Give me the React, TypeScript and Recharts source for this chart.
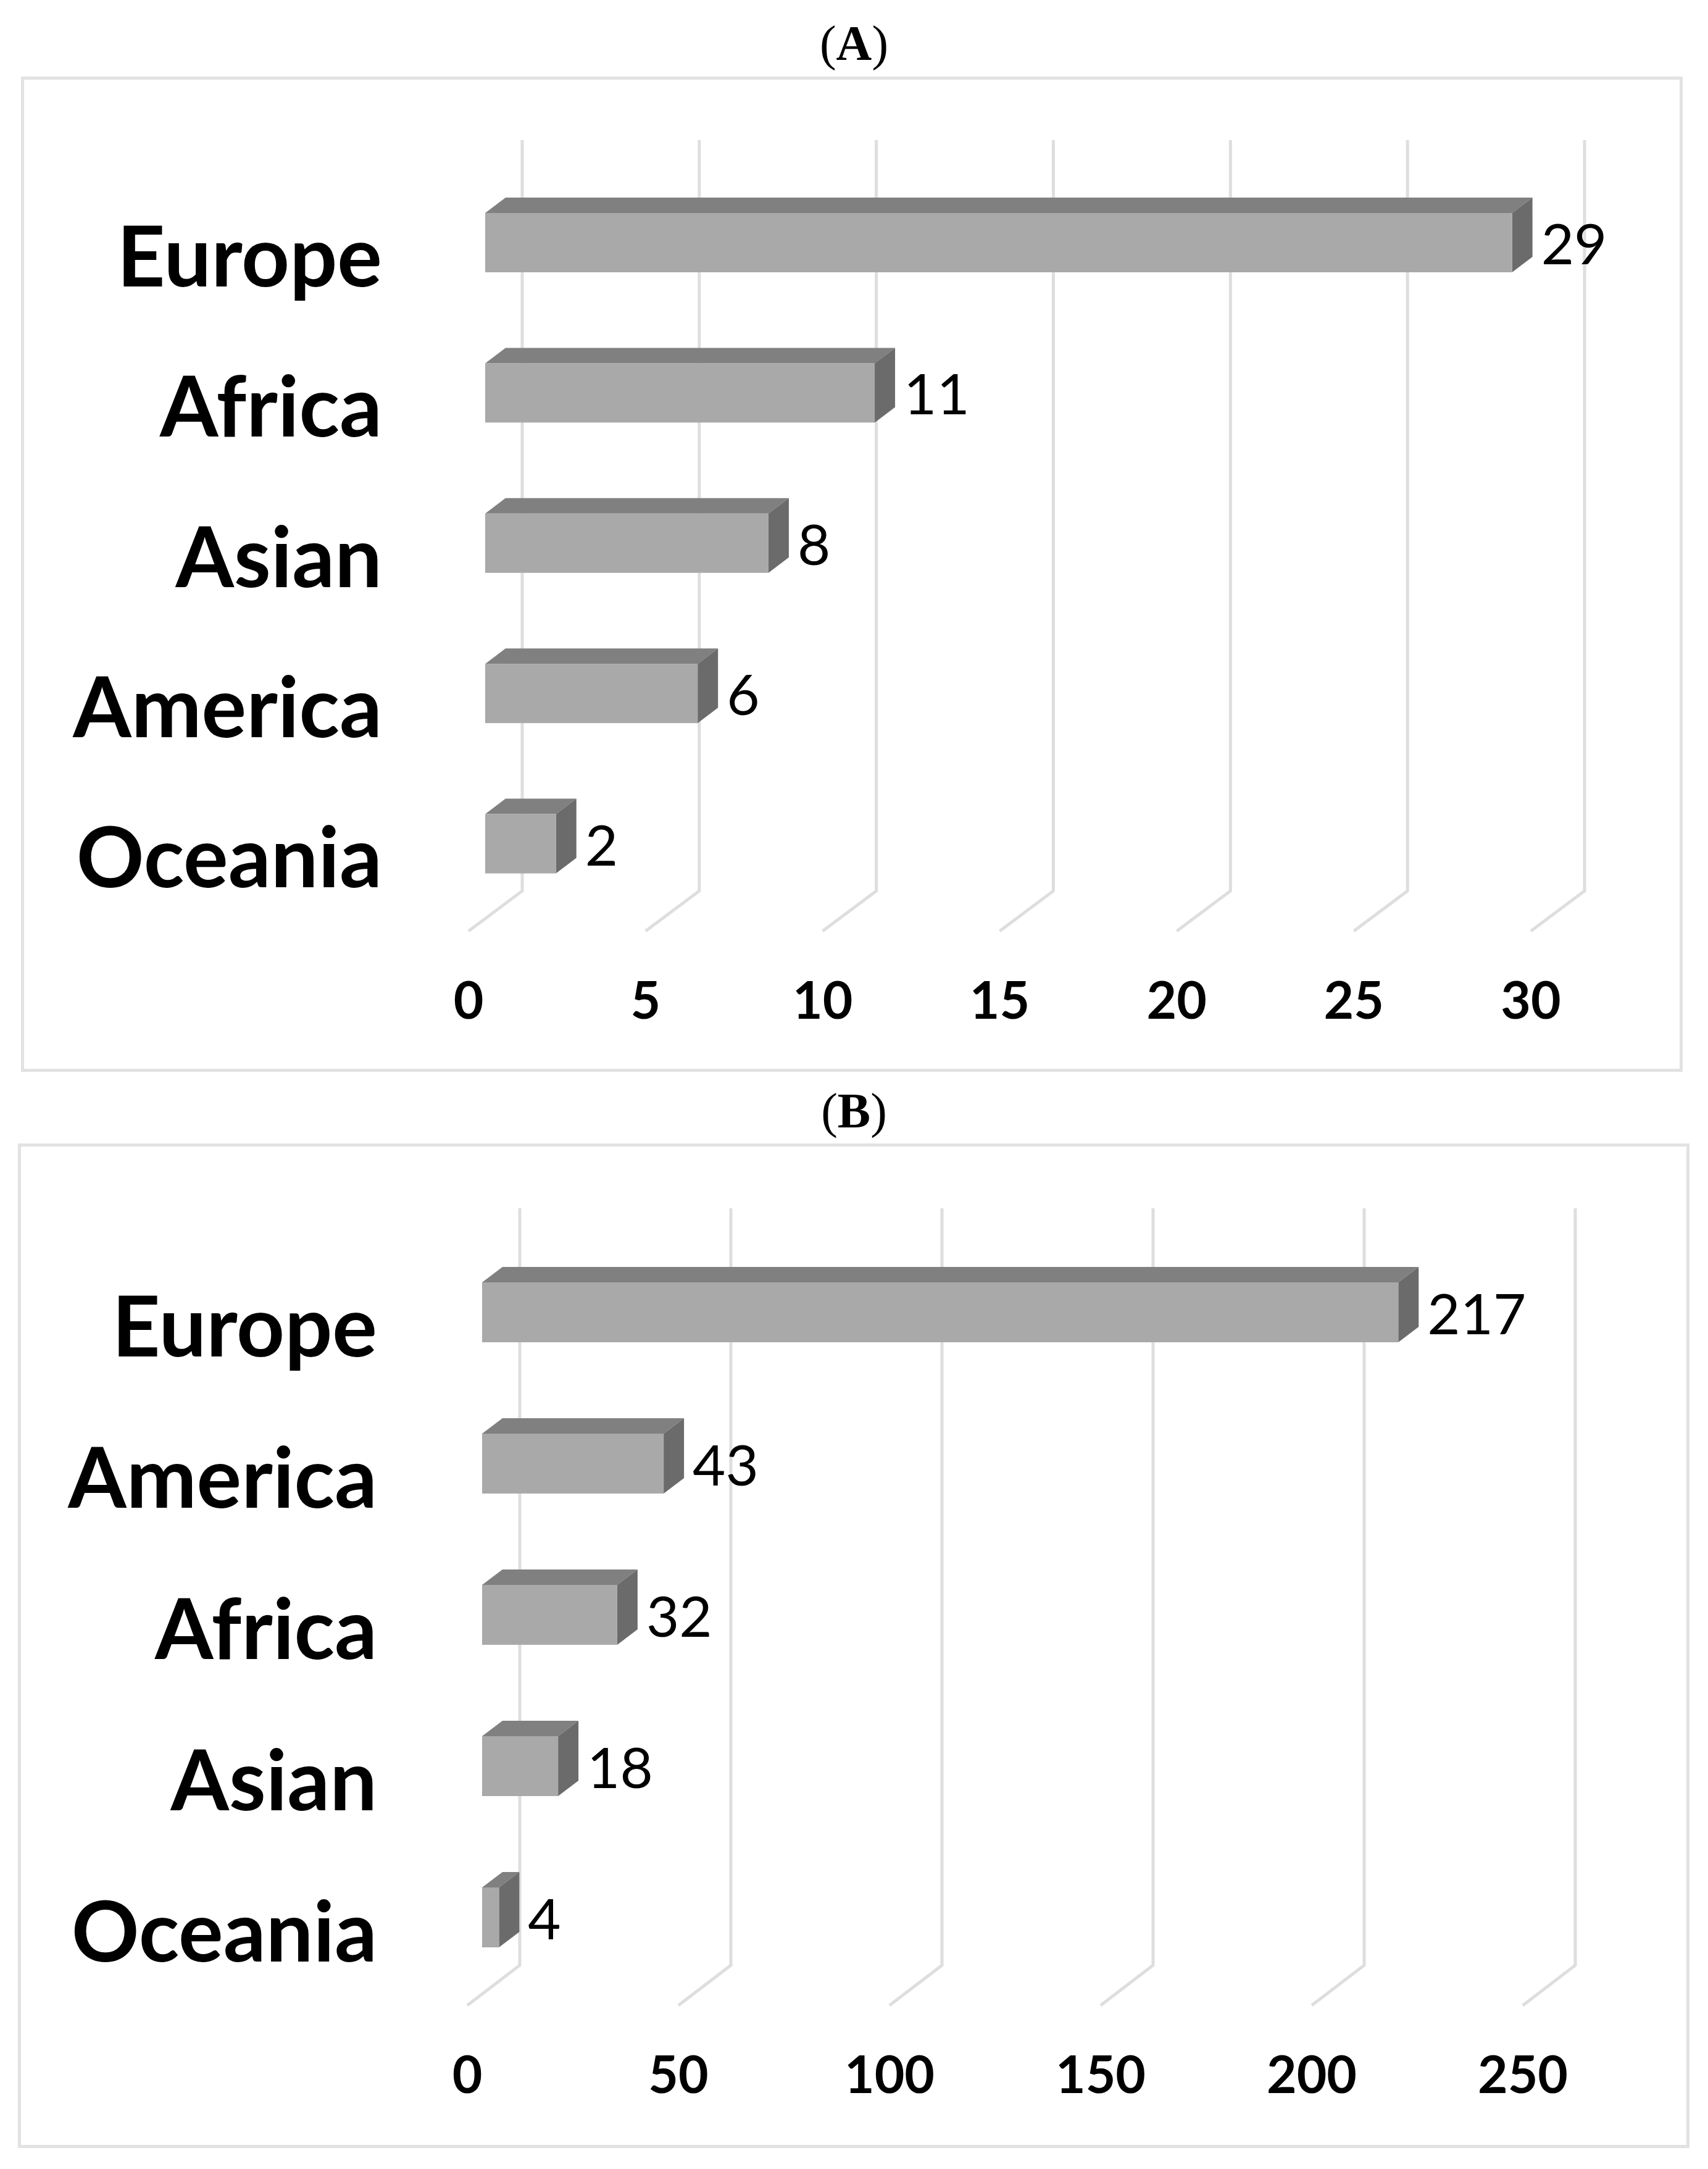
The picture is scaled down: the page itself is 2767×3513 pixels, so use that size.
import React from 'react'
import { BarChart, Bar, XAxis, YAxis, CartesianGrid, LabelList } from 'recharts'

// panel (A)
const regionsA = ['Europe', 'Africa', 'Asian', 'America', 'Oceania']
const countsA = [29, 11, 8, 6, 2]
const ticksA = [0, 5, 10, 15, 20, 25, 30]

// panel (B)
const regionsB = ['Europe', 'America', 'Africa', 'Asian', 'Oceania']
const countsB = [217, 43, 32, 18, 4]
const ticksB = [0, 50, 100, 150, 200, 250]

const FRONT = '#a9a9a9'
const TOP = '#808080'
const SIDE = '#6b6b6b'
const GRID = '#dedede'
const FONT = 'Lato, "Open Sans", sans-serif'

type PanelProps = {
  title: string
  regions: string[]
  counts: number[]
  ticks: number[]
  top: number
  height: number
  margin: { top: number; right: number; bottom: number; left: number }
  padTop: number
  padBottom: number
  barSize: number
  labelGap: number
  floorDepth: [number, number]
  barFront: number
  box: { left: number; top: number; right: number; bottom: number }
  titleTop: number
}

function Panel(p: PanelProps) {
  const data = p.regions.map((region, i) => ({ region, count: p.counts[i] }))
  const [fdx, fdy] = p.floorDepth
  const bdx = 33
  const bdy = -25

  // back-wall gridline that bends down onto the floor
  const gridLine = (g: any) => {
    const x = g.x1
    return (
      <path
        key={g.key}
        d={`M ${x + fdx} ${g.y1} L ${x + fdx} ${g.y2 + fdy} L ${x} ${g.y2}`}
        fill="none"
        stroke={GRID}
        strokeWidth={5}
      />
    )
  }

  const box = (s: any) => {
    const x0 = s.x + p.barFront
    const x1 = x0 + s.width
    const y0 = s.y
    const y1 = s.y + s.height
    return (
      <g>
        <polygon points={`${x0},${y0} ${x1},${y0} ${x1 + bdx},${y0 + bdy} ${x0 + bdx},${y0 + bdy}`} fill={TOP} />
        <polygon points={`${x1},${y0} ${x1 + bdx},${y0 + bdy} ${x1 + bdx},${y1 + bdy} ${x1},${y1}`} fill={SIDE} />
        <rect x={x0} y={y0} width={s.width} height={s.height} fill={FRONT} />
      </g>
    )
  }

  const valueLabel = (l: any) => (
    <text
      x={l.x + p.barFront + l.width + bdx + 14}
      y={l.y + l.height / 2 + 35}
      fontFamily={FONT}
      fontSize={92}
      fill="#000"
    >
      {l.value}
    </text>
  )

  const regionTick = (t: any) => (
    <text x={t.x} y={t.y + 71} textAnchor="end" fontFamily={FONT} fontWeight={700} fontSize={136} fill="#000">
      {t.payload.value}
    </text>
  )

  const numberTick = (t: any) => (
    <text x={t.x} y={t.y + 142} textAnchor="middle" fontFamily={FONT} fontWeight={700} fontSize={84} fill="#000">
      {t.payload.value}
    </text>
  )

  return (
    <>
      <div
        style={{
          position: 'absolute',
          left: p.box.left,
          top: p.box.top,
          width: p.box.right - p.box.left,
          height: p.box.bottom - p.box.top,
          boxSizing: 'border-box',
          border: '5px solid #e2e2e2',
        }}
      />
      <div
        style={{
          position: 'absolute',
          left: 0,
          top: p.titleTop,
          width: 2767,
          textAlign: 'center',
          fontFamily: '"Liberation Serif", serif',
          fontSize: 80,
          lineHeight: '80px',
        }}
      >
        (<b>{p.title}</b>)
      </div>
      <div style={{ position: 'absolute', left: 0, top: p.top }}>
        <BarChart width={2767} height={p.height} data={data} layout="vertical" margin={p.margin} barSize={p.barSize}>
          <CartesianGrid horizontal={false} vertical={gridLine} />
          <XAxis
            type="number"
            domain={[p.ticks[0], p.ticks[p.ticks.length - 1]]}
            ticks={p.ticks}
            interval={0}
            height={100}
            axisLine={false}
            tickLine={false}
            tickSize={0}
            tickMargin={0}
            tick={numberTick}
          />
          <YAxis
            type="category"
            dataKey="region"
            width={100}
            padding={{ top: p.padTop, bottom: p.padBottom }}
            axisLine={false}
            tickLine={false}
            tickSize={0}
            tickMargin={p.labelGap}
            interval={0}
            tick={regionTick}
          />
          <Bar dataKey="count" shape={box} isAnimationActive={false}>
            <LabelList dataKey="count" content={valueLabel} />
          </Bar>
        </BarChart>
      </div>
    </>
  )
}

export default function App() {
  return (
    <div style={{ position: 'absolute', left: 0, top: 0, width: 2767, height: 3513, background: '#fff' }}>
      <Panel
        title="A"
        regions={regionsA}
        counts={countsA}
        ticks={ticksA}
        top={0}
        height={1740}
        margin={{ top: 227, right: 287, bottom: 132, left: 659 }}
        padTop={44}
        padBottom={20}
        barSize={96}
        labelGap={140}
        floorDepth={[87, -65]}
        barFront={27}
        box={{ left: 34, top: 124, right: 2726, bottom: 1736 }}
        titleTop={30}
      />
      <Panel
        title="B"
        regions={regionsB}
        counts={countsB}
        ticks={ticksB}
        top={1740}
        height={1773}
        margin={{ top: 217, right: 300, bottom: 165, left: 657 }}
        padTop={46}
        padBottom={20}
        barSize={97}
        labelGap={146}
        floorDepth={[85, -65]}
        barFront={24}
        box={{ left: 29, top: 1852, right: 2737, bottom: 3479 }}
        titleTop={1759}
      />
    </div>
  )
}
